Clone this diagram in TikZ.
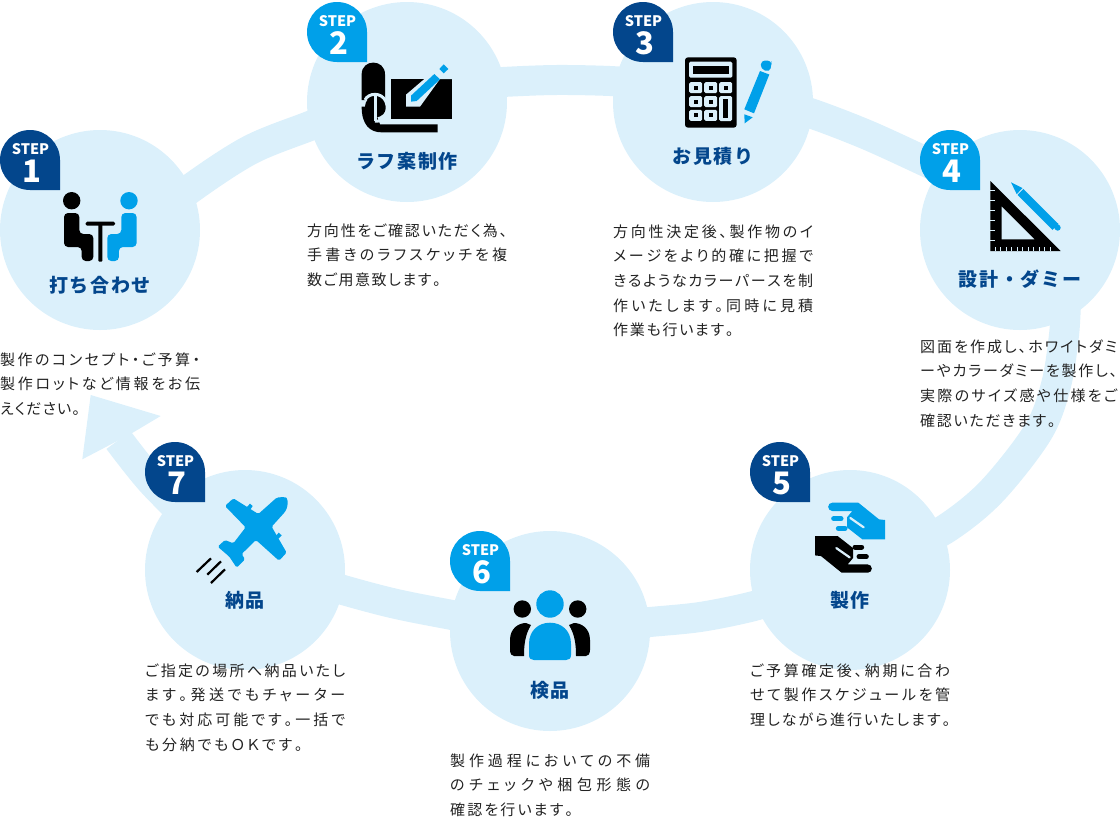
\documentclass[tikz,border=0pt]{standalone}
\usepackage{fontspec}
\setmainfont{Noto Sans CJK JP}[RawFeature=+palt]
\newfontfamily\stepfont{Noto Sans CJK JP}
\definecolor{lite}{HTML}{DBF0FB}
\definecolor{navy}{HTML}{03468C}
\definecolor{sky}{HTML}{00A0E9}
\definecolor{ink}{HTML}{222222}
\makeatletter
\newlength\bodyw \setlength\bodyw{200pt}
\newcommand\jl[1]{\hbox to \bodyw{\vrule height 11pt depth 0pt width 0pt\@tfor\@c:=#1\do{\@c\hfil}\unskip}}
\newcommand\jw[2]{\hbox to #1{\vrule height 11pt depth 0pt width 0pt\@tfor\@c:=#2\do{\@c\hfil}\unskip\hss}}
\makeatother
\newcommand\bodytext[1]{\vbox{\fontsize{15}{24.6}\selectfont\baselineskip=24.6pt\lineskiplimit=-20pt #1}}
\tikzset{
 x=1pt,y=-1pt,
 stepcircle/.style={circle,fill=lite,minimum size=200pt,inner sep=0pt},
 ribbonline/.style={draw=lite,line width=30pt,line join=round},
 titletext/.style={text=navy,inner sep=0pt,font=\stepfont\bfseries\fontsize{19}{19}\selectfont\addfontfeature{LetterSpace=9}},
 bodynode/.style={anchor=north west,inner sep=0pt,text=ink},
 steplabel/.style={text=white,inner sep=0pt,font=\stepfont\bfseries\fontsize{14.5}{14.5}\selectfont},
 stepnum/.style={text=white,inner sep=0pt,font=\stepfont\bfseries\fontsize{31}{31}\selectfont},
}
\newcommand\badge[4]{%
 \fill[#3] ({#1+60},{#2+30}) arc[start angle=0,end angle=270,radius=30pt] -- ({#1+60},{#2+60}) -- cycle;
 \node[steplabel] (bl#4) at ({#1+30.5},{#2+19}) {STEP};
 \node[stepnum] (bn#4) at ({#1+31.5},{#2+41}) {#4};
}
\newcommand\handshape[2]{%
 \fill[#1] (262,188) -- (340,188) -- (402,238) -- (420,240) -- (420,298) -- (352,298) -- (306,262) -- (306,232) -- (322,213) -- (262,213) arc[start angle=270,end angle=90,radius=12.5pt] -- cycle;
 \draw[#2,line width=2.2pt,line cap=round] (316,234) -- (356,262);
 \draw[#1,line width=5pt,line cap=round] (266,236) -- (288,236);
 \draw[#1,line width=5pt,line cap=round] (280,265) -- (300,265);
}
\begin{document}
\begin{tikzpicture}
\useasboundingbox (0,0) rectangle (1120,820);
% circles
\node[stepcircle] (s1) at (100,230) {};
\node[stepcircle] (s2) at (407,102) {};
\node[stepcircle] (s3) at (713,102) {};
\node[stepcircle] (s4) at (1020,230) {};
\node[stepcircle] (s5) at (850,570) {};
\node[stepcircle] (s6) at (550,631) {};
\node[stepcircle] (s7) at (245,570) {};
% ribbon way points
\coordinate (neck) at (118.5,440);
\coordinate (a1) at (152,482);
\coordinate (a2) at (200,530);
\coordinate (b0) at (300,575);
\coordinate (b1) at (333,587);
\coordinate (b2) at (392,603);
\coordinate (b3) at (452,615);
\coordinate (b4) at (490,622);
\coordinate (c0) at (620,625);
\coordinate (c1) at (650,622);
\coordinate (c2) at (700,617);
\coordinate (c3) at (750,607);
\coordinate (c4) at (790,595);
\coordinate (d0) at (900,552);
\coordinate (d1) at (947,528);
\coordinate (d2) at (992,491);
\coordinate (d3) at (1038,432);
\coordinate (d6) at (1056,385);
\coordinate (d4) at (1064,335);
\coordinate (d5) at (1066,300);
\coordinate (e0) at (960,178);
\coordinate (e1) at (920,159);
\coordinate (e2) at (865,134);
\coordinate (e3) at (810,113);
\coordinate (e4) at (770,102);
\coordinate (f0) at (650,84);
\coordinate (f1) at (610,81);
\coordinate (f2) at (556,80);
\coordinate (f3) at (503,82);
\coordinate (f4) at (470,85);
\coordinate (g0) at (350,110);
\coordinate (g1) at (311,125.5);
\coordinate (g2) at (250,150);
\coordinate (g3) at (190,189);
\coordinate (g4) at (150,222);
\draw[ribbonline] plot[smooth,tension=0.55] coordinates {(neck)(a1)(a2)};
\draw[ribbonline] plot[smooth,tension=0.55] coordinates {(b0)(b1)(b2)(b3)(b4)};
\draw[ribbonline] plot[smooth,tension=0.55] coordinates {(c0)(c1)(c2)(c3)(c4)};
\draw[ribbonline] plot[smooth,tension=0.55] coordinates {(d0)(d1)(d2)(d3)(d6)(d4)(d5)};
\draw[ribbonline] plot[smooth,tension=0.55] coordinates {(e0)(e1)(e2)(e3)(e4)};
\draw[ribbonline] plot[smooth,tension=0.55] coordinates {(f0)(f1)(f2)(f3)(f4)};
\draw[ribbonline] plot[smooth,tension=0.55] coordinates {(g0)(g1)(g2)(g3)(g4)};
\coordinate (tip) at (90.7,395);
\coordinate (hl) at (160.7,416);
\coordinate (hr) at (82.3,459.3);
\coordinate (nl) at (131.7,433.3);
\coordinate (nr) at (105.3,447.3);
\fill[lite] (tip) -- (hl) -- (nl) -- (nr) -- (hr) -- cycle;
% badges
\badge{0}{130}{navy}{1}
\badge{307}{2}{sky}{2}
\badge{613}{2}{navy}{3}
\badge{920}{130}{sky}{4}
\badge{750}{442}{navy}{5}
\badge{450}{531}{sky}{6}
\badge{145}{442}{navy}{7}
% icon 1
\fill[black] (71.7,200.7) circle[radius=8.7pt];
\fill[sky] (129,200.7) circle[radius=8.7pt];
\fill[black,rounded corners=4pt] (64,213) -- (79.3,213) -- (79.3,234) -- (93.3,234) -- (93.3,261) -- (81.7,261) -- (81.7,247) -- (64,247) -- cycle;
\fill[sky,rounded corners=4pt] (136.6,213) -- (121.3,213) -- (121.3,234) -- (107.3,234) -- (107.3,261) -- (118.9,261) -- (118.9,247) -- (136.6,247) -- cycle;
\fill[black,rounded corners=1.5pt] (85.7,221.7) rectangle (115,225.7);
\fill[black,rounded corners=1pt] (98.3,222) rectangle (102.3,261.7);
% icon 2
\begin{scope}[shift={(300,0)},scale=1/3]
\fill[black] (272,237) rectangle (457,358);
\fill[lite] (318,320) -- (318,284) -- (373,237) -- (420,237) -- (360,320) -- cycle;
\fill[lite] (400,237) -- (445,195) -- (457,237) -- cycle;
\fill[sky] (333,287) -- (403,222) -- (420,238) -- (350,303) -- (333,305) -- cycle;
\fill[sky] (418,207) -- (431,193) -- (445,207) -- (431,220) -- cycle;
\fill[black] (185,223) .. controls (185,176) and (255,176) .. (255,223) -- (255,300) -- (185,300) -- cycle;
\fill[black] (185,320) .. controls (185,375) and (210,397) .. (245,397) -- (413,397) -- (413,373) -- (240,373) -- (220,320) -- cycle;
\fill[black] (227,320) circle (32);
\draw[lite,line width=3pt] (195,300) .. controls (205,278) and (245,275) .. (258,305) .. controls (270,335) and (250,368) .. (225,363);
\draw[lite,line width=3pt] (226,288) -- (226,362);
\end{scope}
% icon 3
\fill[black,rounded corners=3pt] (685,57.3) rectangle (736.7,127.7);
\fill[lite,rounded corners=1.5pt] (689,61.7) rectangle (732.3,77.7);
\fill[black] (693.3,65.7) rectangle (728.7,74);
\foreach \px/\py in {695.7/87.7,710.7/87.7,725.7/87.7,695.7/101.7,710.7/101.7,695.7/115.3,710.7/115.3}{
 \fill[lite,rounded corners=1.5pt] ({\px-6.5},{\py-5.5}) rectangle ({\px+6.5},{\py+5.5});
 \fill[black] ({\px-2.2},{\py-2}) rectangle ({\px+2.2},{\py+2});
}
\fill[lite,rounded corners=1.5pt] (719.2,96.2) rectangle (732.2,121);
\fill[black] (723.3,99) rectangle (728.3,117.5);
\fill[sky] (744.3,109.3) -- (760,71) -- (769.3,74.5) -- (754,113.3) -- cycle;
\fill[sky,rounded corners=4pt] (760.7,69) -- (761,60.5) -- (771.5,60.5) -- (771.5,65) -- (769.7,72) -- cycle;
\fill[sky] (744.3,114.3) -- (752.7,117.3) -- (744.7,123.3) -- cycle;
% icon 4
\fill[black] (990.3,181) -- (1060.7,251) -- (990.3,251) -- cycle;
\fill[lite] (1001.7,206.7) -- (1034.3,239.3) -- (1001.7,239.3) -- cycle;
\foreach \ty/\tl in {190/5,200/5,210/5,220/5,230/5,240/5}{
 \draw[lite,line width=0.9pt] (990.3,\ty) -- ++(\tl,0);
}
\foreach \tx in {995.5,1000.7,1006,1011.5,1017,1022.5,1028,1033.5,1039,1044.5,1050}{
 \draw[lite,line width=0.9pt] (\tx,251) -- ++(0,-3.8);
}
\fill[sky] (1011,182.3) -- (1022.5,188) -- (1016.7,194.2) -- cycle;
\fill[sky] (1017.5,195) -- (1023.3,189) -- (1058.3,223.8) -- (1052.5,230) -- cycle;
\draw[sky,line width=6pt,line cap=round] (1057,227) -- (1057.7,227.7);
% icon 5
\begin{scope}[shift={(745,440)},scale=1/3]
\handshape{sky}{lite}
\end{scope}
\begin{scope}[rotate around={180:(850,537.7)}]
\begin{scope}[shift={(745,440)},scale=1/3]
\handshape{black}{lite}
\end{scope}
\end{scope}
% icon 6
\fill[black] (522.3,609) circle[radius=8.7pt];
\fill[black] (577.7,609) circle[radius=8.7pt];
\fill[black] (510,650) -- (510,640) .. controls (510,628) and (519,623) .. (526,623) -- (531,625) .. controls (525,635) and (524,645) .. (524,656) -- (514,656) .. controls (512,656) and (510,654) .. (510,650) -- cycle;
\fill[black] (590,650) -- (590,640) .. controls (590,628) and (581,623) .. (574,623) -- (569,625) .. controls (575,635) and (576,645) .. (576,656) -- (586,656) .. controls (588,656) and (590,654) .. (590,650) -- cycle;
\fill[sky] (550,604) circle[radius=13.7pt];
\fill[sky] (529,655) -- (529,644) .. controls (529,630) and (539,622.7) .. (550,622.7) .. controls (561,622.7) and (571,630) .. (571,644) -- (571,655) .. controls (571,658.5) and (569,660) .. (566,660) -- (534,660) .. controls (531,660) and (529,658.5) .. (529,655) -- cycle;
% icon 7
\begin{scope}[shift={(70,400)},scale=1/3]
\fill[sky,rounded corners=1.5pt] (620,293) .. controls (635,291) and (648,291) .. (652,298) .. controls (654,310) and (652,325) .. (643,338) -- (605,380) -- (650,458) -- (627,482) -- (558,420) -- (515,462) -- (525,478) -- (500,503) -- (478,470) -- (443,440) -- (465,420) -- (490,430) -- (527,382) -- (465,318) -- (490,295) -- (565,342) -- cycle;
\fill[sky] (530,322) -- (540,311) -- (548,318) -- (540,330) -- cycle;
\fill[sky] (616,410) -- (626,398) -- (635,406) -- (625,416) -- cycle;
\draw[black,line width=2.2pt] (380,516) -- (423,475);
\draw[black,line width=2.2pt] (412,524) -- (453,484);
\draw[black,line width=2.2pt] (423,549) -- (465,508);
\end{scope}
% titles
\node[titletext] (t1) at (100,285) {打ち合わせ};
\node[titletext] (t2) at (407,161) {ラフ案制作};
\node[titletext] (t3) at (713,156) {お見積り};
\node[titletext] (t4) at (1020,279) {設計・ダミー};
\node[titletext] (t5) at (850,600) {製作};
\node[titletext] (t6) at (550,690) {検品};
\node[titletext] (t7) at (245,600) {納品};
% body
\node[bodynode] (d1) at (0,352.5) {\bodytext{\jl{製作のコンセプト・ご予算・}\jl{製作ロットなど情報をお伝}\jw{81pt}{えください。}}};
\node[bodynode] (d2) at (307,223.5) {\bodytext{\jl{方向性をご確認いただく為、}\jl{手書きのラフスケッチを複}\jw{135pt}{数ご用意致します。}}};
\node[bodynode] (d3) at (613,224.5) {\bodytext{\jl{方向性決定後、製作物のイ}\jl{メージをより的確に把握で}\jl{きるようなカラーパースを制}\jl{作いたします。同時に見積}\jw{122pt}{作業も行います。}}};
\node[bodynode] (d4) at (920,339.5) {\setlength\bodyw{197pt}\bodytext{\jl{図面を作成し、ホワイトダミ}\jl{ーやカラーダミーを製作し、}\jl{実際のサイズ感や仕様をご}\jw{137pt}{確認いただきます。}}};
\node[bodynode] (d5) at (750,663.5) {\bodytext{\jl{ご予算確定後、納期に合わ}\jl{せて製作スケジュールを管}\jl{理しながら進行いたします。}}};
\node[bodynode] (d6) at (450,753.5) {\bodytext{\jl{製作過程においての不備}\jl{のチェックや梱包形態の}\jw{125pt}{確認を行います。}}};
\node[bodynode] (d7) at (145,663.5) {\bodytext{\jl{ご指定の場所へ納品いたし}\jl{ます。発送でもチャーター}\jl{でも対応可能です。一括で}\jw{160pt}{も分納でもＯＫです。}}};
\end{tikzpicture}
\end{document}
